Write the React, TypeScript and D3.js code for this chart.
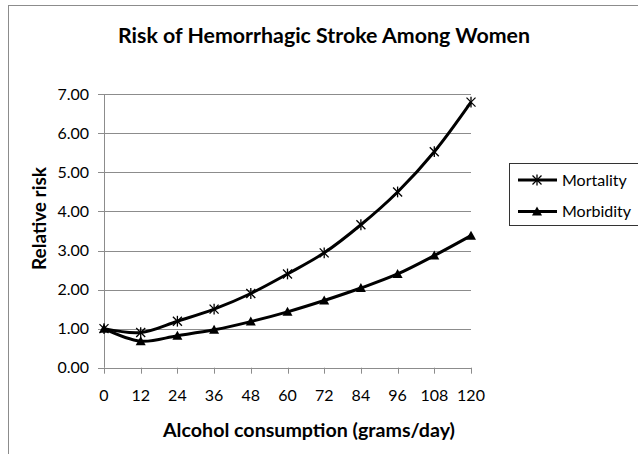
import React from "react";
import * as d3 from "d3";

const xValues = [0, 12, 24, 36, 48, 60, 72, 84, 96, 108, 120];
const mortality = [1.0, 0.9, 1.19, 1.5, 1.9, 2.4, 2.94, 3.66, 4.5, 5.53, 6.8];
const morbidity = [1.0, 0.68, 0.82, 0.97, 1.18, 1.43, 1.72, 2.04, 2.4, 2.87, 3.38];
const yTicks = [0, 1, 2, 3, 4, 5, 6, 7];
const seriesNames = ["Mortality", "Morbidity"];
const title = "Risk of Hemorrhagic Stroke Among Women";
const xTitle = "Alcohol consumption (grams/day)";
const yTitle = "Relative risk";

const W = 638;
const H = 454;
const FONT = "Lato, 'Open Sans', sans-serif";
const GRID = "#8c8c8c";

export default function App() {
  const x = d3.scaleLinear().domain([0, 120]).range([104, 471]);
  const y = d3.scaleLinear().domain([0, 7]).range([367.7, 94.3]);
  const line = d3
    .line<number>()
    .x((_, i) => x(xValues[i]))
    .y((d) => y(d))
    .curve(d3.curveCatmullRom.alpha(0.5));

  const star = (cx: number, cy: number, s: number, key: string | number) => (
    <g key={key} stroke="#000" strokeWidth={1.3}>
      <line x1={cx - s} y1={cy - s} x2={cx + s} y2={cy + s} />
      <line x1={cx - s} y1={cy + s} x2={cx + s} y2={cy - s} />
      <line x1={cx} y1={cy - s * 1.2} x2={cx} y2={cy + s * 1.2} />
    </g>
  );
  const tri = (cx: number, cy: number, key: string | number) => (
    <path
      key={key}
      d={`M${cx},${cy - 5} L${cx + 5},${cy + 4} L${cx - 5},${cy + 4} Z`}
      fill="#000"
    />
  );

  return (
    <div style={{ position: "absolute", left: 0, top: 0 }}>
      <svg width={W} height={H} style={{ display: "block", background: "#fff" }}>
        <rect x={8.5} y={5.5} width={W + 10} height={H + 10} fill="#fff" stroke={GRID} strokeWidth={1} />
        <text x={118} y={43} textLength={412} lengthAdjust="spacingAndGlyphs" fontFamily={FONT} fontWeight="bold" fontSize={20} fill="#000">
          {title}
        </text>
        {/* gridlines and y ticks */}
        {yTicks.map((t) => (
          <g key={t}>
            <line x1={98} x2={471} y1={Math.round(y(t)) + 0.5} y2={Math.round(y(t)) + 0.5} stroke={GRID} strokeWidth={1} />
            <text x={89} y={y(t)} dy="0.36em" textAnchor="end" fontFamily={FONT} fontSize={16} fill="#000">
              {t.toFixed(2)}
            </text>
          </g>
        ))}
        {/* y axis */}
        <line x1={104.5} x2={104.5} y1={y(7)} y2={y(0)} stroke={GRID} strokeWidth={1} />
        {/* x ticks */}
        {xValues.map((v) => (
          <g key={v}>
            <line x1={Math.round(x(v)) + 0.5} x2={Math.round(x(v)) + 0.5} y1={y(0)} y2={y(0) + 6} stroke={GRID} strokeWidth={1} />
            <text x={x(v)} y={401} textAnchor="middle" fontFamily={FONT} fontSize={16} fill="#000">
              {v}
            </text>
          </g>
        ))}
        <text x={163} y={437} textLength={292} lengthAdjust="spacingAndGlyphs" fontFamily={FONT} fontWeight="bold" fontSize={18} fill="#000">
          {xTitle}
        </text>
        <text
          transform={`translate(46,270) rotate(-90)`}
          textLength={103}
          lengthAdjust="spacingAndGlyphs"
          fontFamily={FONT}
          fontWeight="bold"
          fontSize={18}
          fill="#000"
        >
          {yTitle}
        </text>
        {/* series */}
        <path d={line(mortality) || ""} fill="none" stroke="#000" strokeWidth={3} />
        <path d={line(morbidity) || ""} fill="none" stroke="#000" strokeWidth={3} />
        {mortality.map((v, i) => star(x(xValues[i]), y(v), 4.5, "s" + i))}
        {morbidity.map((v, i) => tri(x(xValues[i]), y(v), "t" + i))}
        {/* legend */}
        <rect x={509.5} y={163.5} width={140} height={62} fill="#fff" stroke="#333" strokeWidth={1} />
        <line x1={518} x2={557} y1={180} y2={180} stroke="#000" strokeWidth={3} />
        {star(537, 180, 4.5, "ls")}
        <text x={562} y={180} dy="0.36em" fontFamily={FONT} fontSize={16} fill="#000">
          {seriesNames[0]}
        </text>
        <line x1={518} x2={557} y1={211.5} y2={211.5} stroke="#000" strokeWidth={3} />
        {tri(537, 211.5, "lt")}
        <text x={562} y={211.5} dy="0.36em" fontFamily={FONT} fontSize={16} fill="#000">
          {seriesNames[1]}
        </text>
      </svg>
    </div>
  );
}
